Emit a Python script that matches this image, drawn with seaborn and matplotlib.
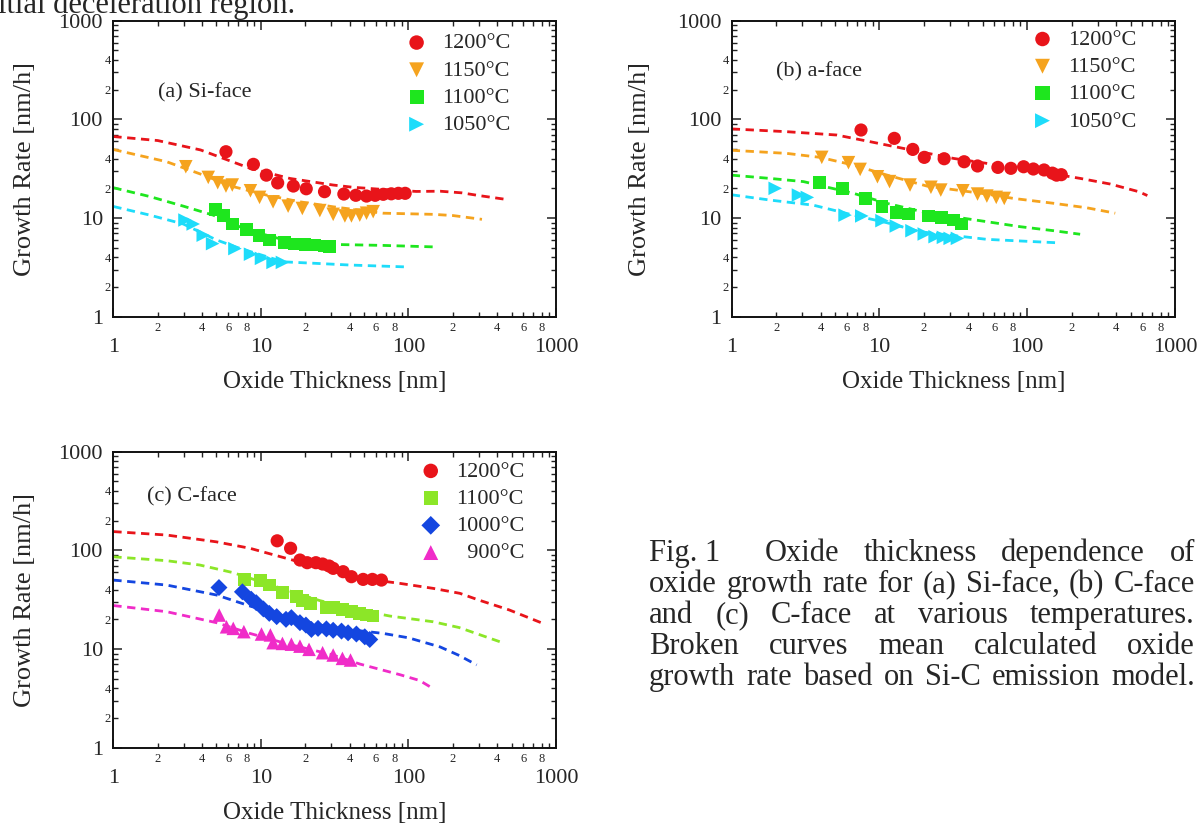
import matplotlib
matplotlib.use("Agg")
import matplotlib.pyplot as plt
import seaborn as sns
import numpy as np
import pandas as pd
from matplotlib.ticker import LogLocator, FuncFormatter

# ---------------- data: panel (a) Si-face ----------------
a_1200_x = [5.8, 8.9, 10.9, 13.0, 16.6, 20.3, 27.0, 36.5, 44.0, 52.0, 59.5, 67.5, 76.5, 85.5, 95.0]
a_1200_y = [47.0, 35.0, 27.2, 22.7, 21.1, 19.8, 18.5, 17.5, 17.0, 16.7, 17.0, 17.4, 17.6, 17.8, 17.8]
a_1150_x = [3.1, 4.4, 5.1, 5.8, 6.4, 8.5, 9.8, 12.1, 15.3, 19.1, 25.1, 30.9, 37.1, 41.1, 46.8, 52.0, 57.7]
a_1150_y = [33.1, 25.8, 22.8, 21.1, 21.6, 18.9, 16.2, 14.6, 13.2, 12.5, 11.9, 10.9, 10.5, 10.5, 10.7, 11.2, 11.6]
a_1100_x = [4.9, 5.6, 6.4, 8.0, 9.7, 11.4, 14.5, 17.0, 19.9, 23.2, 27.1, 29.0]
a_1100_y = [12.1, 10.7, 8.7, 7.6, 6.7, 6.0, 5.6, 5.45, 5.4, 5.33, 5.2, 5.1]
a_1050_x = [3.06, 3.48, 4.07, 4.71, 6.67, 8.51, 10.1, 12.1, 14.0]
a_1050_y = [9.55, 8.7, 6.7, 5.5, 4.9, 4.3, 3.9, 3.55, 3.55]

a_1200_cx = [1, 2, 3.9, 8.4, 15.7, 30.9, 42, 70, 113, 164, 230, 300, 480]
a_1200_cy = [67, 61, 49, 32, 25.2, 21.6, 20.5, 19.4, 18.6, 18.7, 18.0, 16.9, 15.3]
a_1150_cx = [1, 2.3, 3.9, 6.5, 10.9, 18.4, 30.9, 67, 147, 200, 315]
a_1150_cy = [49.5, 37.2, 27.9, 20.8, 17.1, 14.6, 13.0, 11.2, 10.9, 10.6, 9.7]
a_1100_cx = [1, 1.77, 2.98, 4.75, 8.0, 15, 30.9, 67, 148]
a_1100_cy = [20.3, 16.5, 13.2, 10.7, 7.6, 5.9, 5.4, 5.28, 5.1]
a_1050_cx = [1, 1.77, 2.98, 5.0, 7.0, 14.2, 23.8, 40, 94]
a_1050_cy = [13.1, 10.7, 8.7, 6.0, 5.0, 3.6, 3.47, 3.34, 3.2]

# ---------------- data: panel (b) a-face ----------------
b_1200_x = [7.5, 12.6, 16.8, 20.1, 27.4, 37.4, 46.1, 63.3, 77.5, 94.5, 110, 130, 148, 158, 170]
b_1200_y = [78.0, 64.2, 49.6, 41.2, 39.9, 37.2, 33.7, 32.6, 31.9, 33.1, 31.4, 30.7, 28.5, 27.2, 27.5]
b_1150_x = [4.07, 6.17, 7.40, 9.69, 11.7, 16.1, 22.3, 26.0, 36.7, 46.1, 53.3, 61.7, 69.9]
b_1150_y = [41.2, 36.4, 31.1, 26.2, 23.4, 21.6, 20.5, 19.2, 18.9, 17.5, 16.7, 16.2, 15.8]
b_1100_x = [3.92, 5.64, 8.08, 10.4, 13.1, 15.7, 21.5, 26.4, 31.7, 36.1]
b_1100_y = [22.8, 20.0, 15.8, 13.2, 11.3, 11.0, 10.5, 10.1, 9.55, 8.7]
b_1050_x = [1.97, 2.83, 3.25, 5.85, 7.59, 10.4, 13.0, 16.6, 20.1, 23.8, 27.1, 30.1, 33.7]
b_1050_y = [20.0, 17.1, 16.2, 10.7, 10.5, 9.4, 8.3, 7.44, 6.89, 6.47, 6.37, 6.22, 6.22]

b_1200_cx = [1, 2.36, 5.14, 8.64, 14.5, 31.7, 53.3, 100, 229, 365, 568, 650]
b_1200_cy = [80, 75, 69.4, 59.4, 50.8, 40.2, 35.8, 31.0, 25.2, 22.1, 18.5, 16.9]
b_1150_cx = [1, 2.36, 3.97, 6.67, 11.2, 20.9, 53, 80.8, 151, 253, 394]
b_1150_cy = [48.6, 45.2, 41.2, 34.4, 27.3, 21.1, 17.5, 15.8, 14.1, 12.7, 11.2]
b_1100_cx = [1, 1.82, 3.06, 6.67, 11.2, 20.9, 53.3, 89.7, 151, 228]
b_1100_cy = [27.2, 25.2, 23.4, 17.8, 14.1, 11.3, 9.18, 8.17, 7.44, 6.85]
b_1050_cx = [1, 1.82, 3.57, 6.67, 11.2, 18.8, 53.3, 165]
b_1050_cy = [17.2, 15.2, 13.5, 10.7, 8.97, 7.27, 6.08, 5.6]

# ---------------- data: panel (c) C-face ----------------
c_1200_x = [12.9, 15.9, 18.4, 20.6, 23.6, 26.2, 29.0, 30.9, 36.1, 41.1, 49.3, 57.0, 65.6]
c_1200_y = [125, 105, 79.8, 75.0, 75.0, 72.7, 69.4, 65.7, 60.8, 54.1, 50.8, 50.8, 50.0]
c_1100_x = [7.79, 9.95, 11.4, 14.0, 17.4, 19.1, 21.7, 27.8, 30.9, 35.7, 41.1, 46.8, 51.9, 57.6]
c_1100_y = [50.8, 49.3, 44.5, 37.2, 33.9, 30.9, 29.0, 26.4, 26.4, 25.2, 23.9, 23.0, 22.1, 21.6]
c_1000_x = [5.2, 7.5, 8.6, 9.3, 10.4, 11.4, 12.8, 14.8, 16.1, 18.4, 20.2, 22.0, 24.4, 27.8, 30.9, 35.2, 39.0, 44.4, 50.6, 54.7]
c_1000_y = [42, 38, 32, 29.5, 25.5, 23, 21.3, 20.0, 20.8, 18.5, 17.5, 15.8, 16.2, 16.0, 15.5, 15.2, 14.6, 14.2, 13.3, 12.5]
c_900_x = [5.22, 5.85, 6.5, 7.67, 10.1, 11.6, 12.1, 14.0, 16.1, 18.4, 21.2, 26.2, 30.9, 35.7, 40.5]
c_900_y = [22.1, 16.8, 16.2, 15.0, 14.2, 13.9, 11.6, 11.4, 11.2, 10.7, 9.93, 9.18, 8.70, 8.04, 7.74]

c_1200_cx = [1, 2.3, 5.0, 8.43, 14.9, 30, 48, 87.4, 147, 223, 299, 482, 792]
c_1200_cy = [155, 143, 122, 105, 83, 62, 52, 46.3, 41.2, 36.7, 31.4, 24.9, 18.5]
c_1100_cx = [1, 2.3, 3.86, 6.5, 12, 25, 45, 74.8, 147, 221, 449]
c_1100_cy = [86, 78.6, 71, 59.4, 44, 31, 25, 21.6, 18.9, 16.5, 11.4]
c_1000_cx = [1, 2.3, 5.0, 8.43, 15, 30, 67.4, 100, 164, 221, 290]
c_1000_cy = [50, 44.5, 35.3, 27.3, 21, 16.5, 14.4, 13.0, 10.5, 8.6, 6.9]
c_900_cx = [1, 2.3, 5.0, 8.43, 15, 30, 46.8, 87.4, 119, 150]
c_900_cy = [27.6, 23.9, 18.5, 14.4, 11.3, 8.8, 7.05, 5.5, 4.8, 3.9]

labels_ab = ["1200°C", "1150°C", "1100°C", "1050°C"]
labels_c = ["1200°C", "1100°C", "1000°C", "  900°C"]
panel_titles = ["(a) Si-face", "(b) a-face", "(c) C-face"]

caption_lines = [
    ["Fig. 1", "Oxide", "thickness", "dependence", "of"],
    ["oxide", "growth", "rate", "for", "(a)", "Si-face,", "(b)", "C-face"],
    ["and", "(c)", "C-face", "at", "various", "temperatures."],
    ["Broken", "curves", "mean", "calculated", "oxide"],
    ["growth", "rate", "based", "on", "Si-C", "emission", "model."],
]
top_text = "itial deceleration region."

# ---------------- style ----------------
sns.set_style("ticks")
plt.rcParams['font.family'] = ['Liberation Serif', 'DejaVu Serif']
plt.rcParams['axes.linewidth'] = 1.4

RED = "#e8141a"
ORANGE = "#f5a31e"
GREEN = "#1ee61e"
CYAN = "#1edcfa"
YGREEN = "#8ce628"
BLUE = "#1446e0"
MAGENTA = "#f02cc8"

W, H = 1202, 823
fig = plt.figure(figsize=(W / 100, H / 100), dpi=100)


def fx(px):
    return px / W


def fy(py):
    return 1 - py / H


def make_ax(left_px, top_px, right_px, bottom_px):
    return fig.add_axes([fx(left_px), fy(bottom_px), fx(right_px - left_px),
                         (bottom_px - top_px) / H])


ax_a = make_ax(113.3, 20.7, 556, 316.7)
ax_b = make_ax(731.7, 20.7, 1175, 316.7)
ax_c = make_ax(113.3, 451.7, 556, 747.7)


def style_axis(ax):
    ax.set_xscale('log')
    ax.set_yscale('log')
    ax.set_xlim(1, 1000)
    ax.set_ylim(1, 1000)
    ax.xaxis.set_major_locator(LogLocator(base=10, numticks=10))
    ax.yaxis.set_major_locator(LogLocator(base=10, numticks=10))
    ax.xaxis.set_minor_locator(LogLocator(base=10, subs=np.arange(2, 10), numticks=30))
    ax.yaxis.set_minor_locator(LogLocator(base=10, subs=np.arange(2, 10), numticks=30))
    ax.xaxis.set_major_formatter(FuncFormatter(lambda v, p: f"{v:g}"))
    ax.yaxis.set_major_formatter(FuncFormatter(lambda v, p: f"{v:g}"))

    def minor_fmt(keep):
        def f(v, p):
            m = int(round(v / 10 ** np.floor(np.log10(v) + 1e-9)))
            return str(m) if m in keep else ""
        return FuncFormatter(f)

    ax.xaxis.set_minor_formatter(minor_fmt({2, 4, 6, 8}))
    ax.yaxis.set_minor_formatter(minor_fmt({2, 4}))
    ax.tick_params(which='both', direction='in', top=True, right=True, color='#222222')
    ax.tick_params(which='major', length=6.5, width=1.1)
    ax.tick_params(which='minor', length=3.5, width=1.0)
    ax.tick_params(axis='x', which='major', labelsize=16, pad=15)
    ax.tick_params(axis='x', which='minor', labelsize=9, pad=4)
    ax.tick_params(axis='y', which='major', labelsize=16, pad=7.5)
    ax.tick_params(axis='y', which='minor', labelsize=9, pad=2)
    for s in ax.spines.values():
        s.set_color('#111111')
        s.set_linewidth(1.4)
    ax.set_xlabel("Oxide Thickness [nm]", fontsize=18)
    ax.set_ylabel("Growth Rate [nm/h]", fontsize=19)
    ax.xaxis.label.set_va('center')
    ax.yaxis.label.set_va('center')


def draw_panel(ax, curves, points, labels, leg_xy, title, title_xy):
    style_axis(ax)
    for (cx, cy, col) in curves:
        sns.lineplot(x=cx, y=cy, ax=ax, color=col, linewidth=2.0,
                     linestyle=(0, (3, 2)), estimator=None, sort=False, legend=False)
    handles = []
    for (px_, py_, col, mk, sz) in points:
        sns.scatterplot(x=px_, y=py_, ax=ax, color=col, marker=mk, s=sz,
                        linewidth=0, edgecolor='none', legend=False, zorder=3)
        handles.append(ax.collections[-1])
    ax.legend(handles, labels, loc='upper left', bbox_to_anchor=leg_xy,
              frameon=False, fontsize=16, handlelength=1.0, handletextpad=0.65,
              labelspacing=0.30, borderpad=0, borderaxespad=0, scatterpoints=1,
              markerscale=1.1)
    ax.text(title_xy[0], title_xy[1], title, transform=ax.transAxes,
            fontsize=16, ha='left', va='center')


draw_panel(
    ax_a,
    [(a_1200_cx, a_1200_cy, RED), (a_1150_cx, a_1150_cy, ORANGE),
     (a_1100_cx, a_1100_cy, GREEN), (a_1050_cx, a_1050_cy, CYAN)],
    [(a_1200_x, a_1200_y, RED, 'o', 90), (a_1150_x, a_1150_y, ORANGE, 'v', 95),
     (a_1100_x, a_1100_y, GREEN, 's', 85), (a_1050_x, a_1050_y, CYAN, '>', 95)],
    labels_ab, (0.66, 0.959), panel_titles[0], (0.102, 0.755))

draw_panel(
    ax_b,
    [(b_1200_cx, b_1200_cy, RED), (b_1150_cx, b_1150_cy, ORANGE),
     (b_1100_cx, b_1100_cy, GREEN), (b_1050_cx, b_1050_cy, CYAN)],
    [(b_1200_x, b_1200_y, RED, 'o', 90), (b_1150_x, b_1150_y, ORANGE, 'v', 95),
     (b_1100_x, b_1100_y, GREEN, 's', 85), (b_1050_x, b_1050_y, CYAN, '>', 95)],
    labels_ab, (0.676, 0.971), panel_titles[1], (0.099, 0.828))

draw_panel(
    ax_c,
    [(c_1200_cx, c_1200_cy, RED), (c_1100_cx, c_1100_cy, YGREEN),
     (c_1000_cx, c_1000_cy, BLUE), (c_900_cx, c_900_cy, MAGENTA)],
    [(c_1200_x, c_1200_y, RED, 'o', 90), (c_1100_x, c_1100_y, YGREEN, 's', 85),
     (c_1000_x, c_1000_y, BLUE, 'D', 75), (c_900_x, c_900_y, MAGENTA, '^', 95)],
    labels_c, (0.692, 0.968), panel_titles[2], (0.076, 0.848))

for ax in (ax_a, ax_b, ax_c):
    ax.xaxis.set_label_coords(0.5, -0.22)
ax_a.yaxis.set_label_coords(-0.200, 0.5)
ax_b.yaxis.set_label_coords(-0.2075, 0.5)
ax_c.yaxis.set_label_coords(-0.200, 0.5)

# cut-off text at top
fig.text(fx(-2), fy(13), top_text, fontsize=22, ha='left', va='baseline')

# justified caption
renderer = fig.canvas.get_renderer()
cap_x0, cap_x1 = 649, 1195
cap_base0, cap_step = 561, 31
for i, toks in enumerate(caption_lines):
    yb = cap_base0 + i * cap_step
    ts = [fig.text(0, fy(yb), t, fontsize=22, ha='left', va='baseline') for t in toks]
    ws = [t.get_window_extent(renderer).width for t in ts]
    gw = [1.0] * (len(toks) - 1)
    if i == 0:
        gw[0] = 1.8
    gap = (cap_x1 - cap_x0 - sum(ws)) / sum(gw)
    x = cap_x0
    for j, t in enumerate(ts):
        t.set_x(fx(x))
        x += ws[j] + (gap * gw[j] if j < len(gw) else 0)

fig.savefig("out.png", dpi=100)
